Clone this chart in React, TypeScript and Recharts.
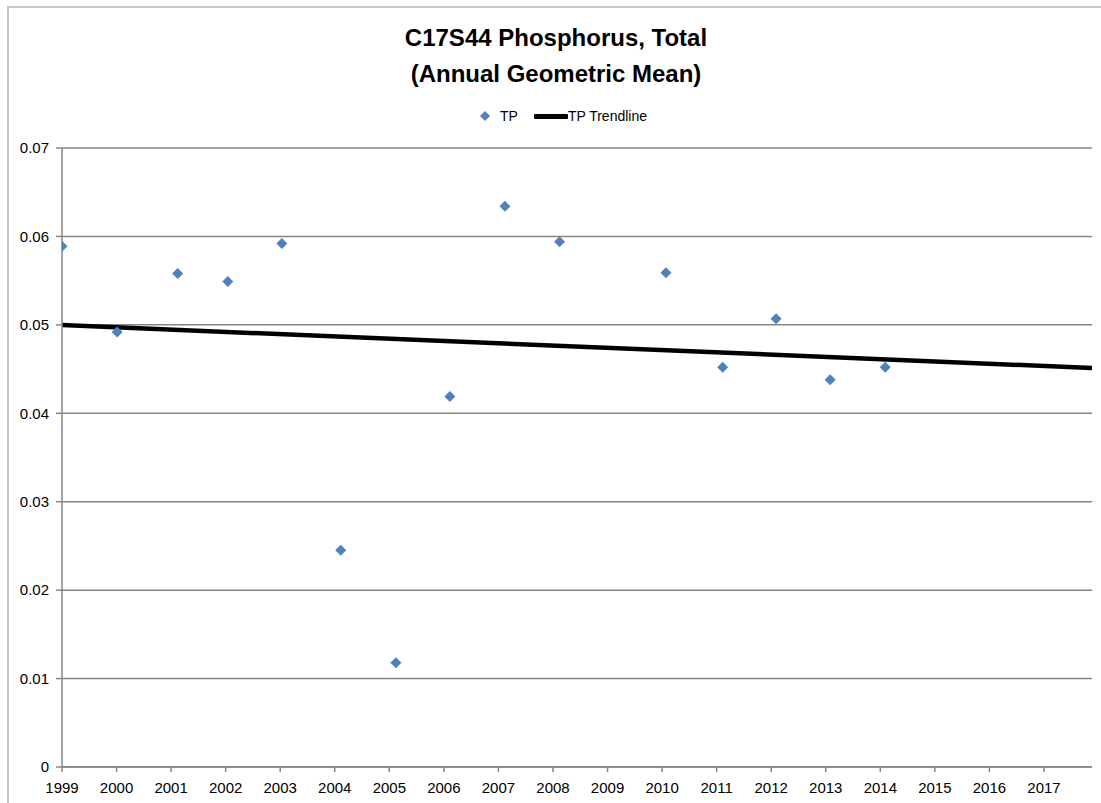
import { ComposedChart, Scatter, Line, XAxis, YAxis, CartesianGrid } from 'recharts';

// sample dates (fractional year) and annual geometric mean TP
const years = [1999.0, 2000.01, 2001.12, 2002.04, 2003.03, 2004.11, 2005.12, 2006.11, 2007.12, 2008.12, 2010.07, 2011.11, 2012.09, 2013.08, 2014.09];
const tpValues = [0.0589, 0.0492, 0.0558, 0.0549, 0.0592, 0.0245, 0.0118, 0.0419, 0.0634, 0.0594, 0.0559, 0.0452, 0.0507, 0.0438, 0.0452];

// trendline end points
const trendYears = [1999, 2017.88];
const trendValues = [0.04998, 0.04512];

const xTicks = [1999, 2000, 2001, 2002, 2003, 2004, 2005, 2006, 2007, 2008, 2009, 2010, 2011, 2012, 2013, 2014, 2015, 2016, 2017];
const yTicks = [0, 0.01, 0.02, 0.03, 0.04, 0.05, 0.06, 0.07];

const tpData = years.map((year, i) => ({ year, tp: tpValues[i] }));
const trendData = trendYears.map((year, i) => ({ year, tp: trendValues[i] }));

const FONT = "'Liberation Sans', Arial, sans-serif";
const AXIS_GRAY = '#868686';
const BLUE = '#4F81BD';

const Diamond = (props: any) => {
  const { cx, cy } = props;
  if (cx == null || cy == null) return null;
  const r = 5.5;
  return <polygon points={`${cx},${cy - r} ${cx + r},${cy} ${cx},${cy + r} ${cx - r},${cy}`} fill={BLUE} />;
};

export default function App() {
  return (
    <div style={{ position: 'absolute', left: 0, top: 0, width: 1101, height: 803, background: '#fff', fontFamily: FONT, overflow: 'hidden' }}>
      <div style={{ position: 'absolute', left: 7, top: 6, right: 0, bottom: 0, borderLeft: '2px solid #c8c8c8', borderTop: '2px solid #c8c8c8' }} />
      <div style={{ position: 'absolute', left: 0, top: 20, width: 1112, textAlign: 'center', fontWeight: 'bold', fontSize: 24, lineHeight: '36px', color: '#000' }}>
        C17S44 Phosphorus, Total
        <br />
        (Annual Geometric Mean)
      </div>
      <div style={{ position: 'absolute', left: 478, top: 106, height: 20, display: 'flex', alignItems: 'center', fontSize: 14, color: '#000' }}>
        <svg width={14} height={14} style={{ marginRight: 8 }}>
          <polygon points="7,2 12,7 7,12 2,7" fill={BLUE} />
        </svg>
        <span>TP</span>
        <span style={{ display: 'inline-block', width: 34, height: 5, background: '#000', marginLeft: 16, borderRadius: 1 }} />
        <span>TP Trendline</span>
      </div>
      <div style={{ position: 'absolute', left: 0, top: 0 }}>
        <ComposedChart width={1101} height={803} margin={{ top: 148, right: 9, bottom: 0, left: 0 }}>
          <CartesianGrid vertical={false} stroke={AXIS_GRAY} strokeWidth={1.5} />
          <XAxis
            type="number"
            dataKey="year"
            domain={[1999, 2017.88]}
            ticks={xTicks}
            allowDataOverflow
            height={36}
            stroke={AXIS_GRAY}
            strokeWidth={1.5}
            tickSize={5}
            tickMargin={10}
            tick={{ fill: '#000', fontSize: 15, fontFamily: FONT }}
          />
          <YAxis
            type="number"
            dataKey="tp"
            domain={[0, 0.07]}
            ticks={yTicks}
            width={62}
            stroke={AXIS_GRAY}
            strokeWidth={1.5}
            tickSize={6}
            tickMargin={7}
            tick={{ fill: '#000', fontSize: 15, fontFamily: FONT }}
            tickFormatter={(v: number) => (v === 0 ? '0' : v.toFixed(2))}
          />
          <Line data={trendData} dataKey="tp" type="linear" stroke="#000" strokeWidth={4.5} dot={false} isAnimationActive={false} />
          <Scatter data={tpData} dataKey="tp" shape={<Diamond />} isAnimationActive={false} />
        </ComposedChart>
      </div>
    </div>
  );
}
